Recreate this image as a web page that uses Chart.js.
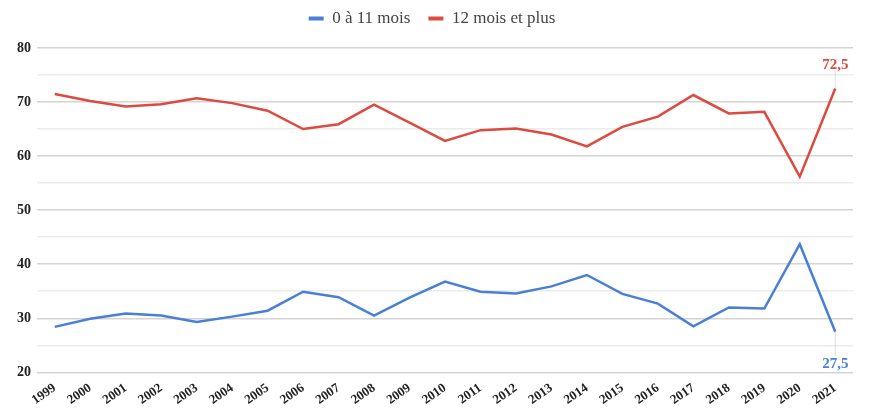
<!DOCTYPE html>
<html>
<head>
<meta charset="utf-8">
<script src="https://cdn.jsdelivr.net/npm/chart.js@4.4.1/dist/chart.umd.min.js"></script>
<style>
  html, body { margin: 0; padding: 0; background: #fff; }
  #wrap { width: 874px; height: 413px; }
</style>
</head>
<body>
<div id="wrap"><canvas id="chart"></canvas></div>
<script>
const annees = ['1999', '2000', '2001', '2002', '2003', '2004', '2005', '2006', '2007', '2008', '2009',
    '2010', '2011', '2012', '2013', '2014', '2015', '2016', '2017', '2018', '2019', '2020', '2021'];
const moins12 = [28.4, 29.9, 30.9, 30.5, 29.3, 30.3, 31.4, 34.9, 33.9, 30.5, 33.8,
    36.8, 34.9, 34.6, 35.9, 38.0, 34.5, 32.7, 28.5, 32.0, 31.8, 43.7, 27.5];
const plus12 = [71.5, 70.2, 69.2, 69.6, 70.7, 69.8, 68.4, 65.0, 65.9, 69.5, 66.2,
    62.8, 64.8, 65.1, 64.0, 61.8, 65.4, 67.3, 71.3, 67.9, 68.2, 56.2, 72.5];
const ticksY = [20, 30, 40, 50, 60, 70, 80];

const bleu = '#4a7fd6';
const rouge = '#dc4a40';
const serif = "'Liberation Serif', 'DejaVu Serif', serif";

// un peu d'espace sous la légende
const margeLegende = {
    id: 'margeLegende',
    beforeInit(chart) {
        const fit = chart.legend.fit;
        chart.legend.fit = function () {
            fit.bind(chart.legend)();
            this.height += 11;
        };
    }
};

// étiquettes de la dernière valeur (2021)
const finLabels = {
    id: 'finLabels',
    afterDatasetsDraw(chart) {
        const ctx = chart.ctx;
        ctx.save();
        ctx.font = 'bold 15px ' + serif;
        ctx.textAlign = 'center';
        ctx.textBaseline = 'alphabetic';
        chart.data.datasets.forEach((ds, i) => {
            const pt = chart.getDatasetMeta(i).data[ds.data.length - 1];
            const haut = i === 1;
            const ty = haut ? pt.y - 20 : pt.y + 36;
            ctx.strokeStyle = 'rgba(200,200,200,0.6)';
            ctx.lineWidth = 1;
            ctx.beginPath();
            ctx.moveTo(pt.x, pt.y);
            ctx.lineTo(pt.x, haut ? ty + 2 : ty - 12);
            ctx.stroke();
            ctx.fillStyle = ds.borderColor;
            ctx.fillText(String(ds.data[ds.data.length - 1]).replace('.', ','), pt.x, ty);
        });
        ctx.restore();
    }
};

new Chart(document.getElementById('chart').getContext('2d'), {
    type: 'line',
    data: {
        labels: annees,
        datasets: [
            { label: '0 à 11 mois', data: moins12, borderColor: bleu, backgroundColor: bleu },
            { label: '12 mois et plus', data: plus12, borderColor: rouge, backgroundColor: rouge }
        ]
    },
    options: {
        responsive: true,
        maintainAspectRatio: false,
        animation: false,
        layout: { padding: { left: 11, right: 21, top: -8, bottom: 5 } },
        elements: {
            line: { borderWidth: 2.5, tension: 0 },
            point: { radius: 0 }
        },
        plugins: {
            tooltip: { enabled: false },
            legend: {
                position: 'top',
                labels: {
                    font: { family: serif, size: 17 },
                    color: '#444',
                    boxWidth: 15,
                    boxHeight: 4,
                    padding: 18,
                    generateLabels(chart) {
                        return Chart.defaults.plugins.legend.labels.generateLabels(chart)
                            .map(l => Object.assign(l, { lineWidth: 0 }));
                    }
                }
            }
        },
        scales: {
            x: {
                offset: true,
                grid: { display: false },
                border: { display: false },
                ticks: {
                    font: { family: serif, size: 13, weight: 'bold' },
                    color: '#222',
                    minRotation: 35,
                    maxRotation: 35,
                    padding: 0,
                    autoSkip: false
                }
            },
            y: {
                min: 20,
                max: 80,
                border: { display: false },
                grid: {
                    drawTicks: false,
                    color: c => ticksY.includes(c.tick.value) ? '#d4d4d4' : '#ececec',
                    lineWidth: 1.5
                },
                ticks: {
                    stepSize: 5,
                    padding: 6,
                    font: { family: serif, size: 14, weight: 'bold' },
                    color: '#222',
                    callback: v => ticksY.includes(v) ? v : ''
                }
            }
        }
    },
    plugins: [margeLegende, finLabels]
});
</script>
</body>
</html>
